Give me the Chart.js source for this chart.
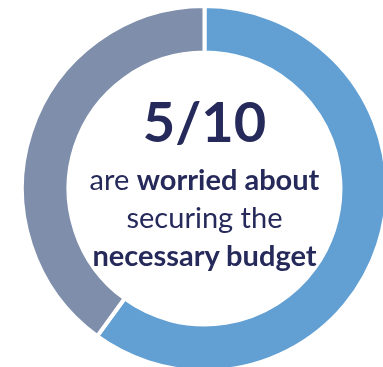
<!DOCTYPE html>
<html lang="en">
<head>
    <meta charset="UTF-8">
    <meta name="viewport" content="width=device-width, initial-scale=1.0">
    <title>Budget worries</title>
    <script src="https://cdn.jsdelivr.net/npm/chart.js"></script>
    <style>
        html, body { margin: 0; padding: 0; background: #fff; overflow: hidden; }
        body { width: 383px; height: 367px; position: relative; }
        #donutChart { position: absolute; left: 20px; top: 3.5px; }
        .center-text {
            position: absolute; left: 0; width: 409px; text-align: center;
            font-family: "Lato", sans-serif; color: #262a5a;
        }
        .big { top: 86px; font-size: 56px; font-weight: 700; line-height: 70px; }
        .lines { top: 160px; font-size: 29px; line-height: 38px; }
        .lines b { font-weight: 700; }
    </style>
</head>
<body>
    <canvas id="donutChart" width="369" height="369"></canvas>
    <div class="center-text big">5/10</div>
    <div class="center-text lines">are <b>worried about</b><br>securing the<br><b>necessary budget</b></div>
    <script>
        // share of respondents, worried vs not
        const labels = ['Worried', 'Not worried'];
        const values = [60, 40];
        const colors = ['#629fd3', '#7f8eab'];

        const ctx = document.getElementById('donutChart').getContext('2d');
        new Chart(ctx, {
            type: 'doughnut',
            data: {
                labels: labels,
                datasets: [{
                    data: values,
                    backgroundColor: colors,
                    borderColor: '#ffffff',
                    borderWidth: 4
                }]
            },
            options: {
                responsive: false,
                animation: false,
                cutout: '74.5%',
                plugins: {
                    legend: { display: false },
                    tooltip: { enabled: false }
                }
            }
        });
    </script>
</body>
</html>
